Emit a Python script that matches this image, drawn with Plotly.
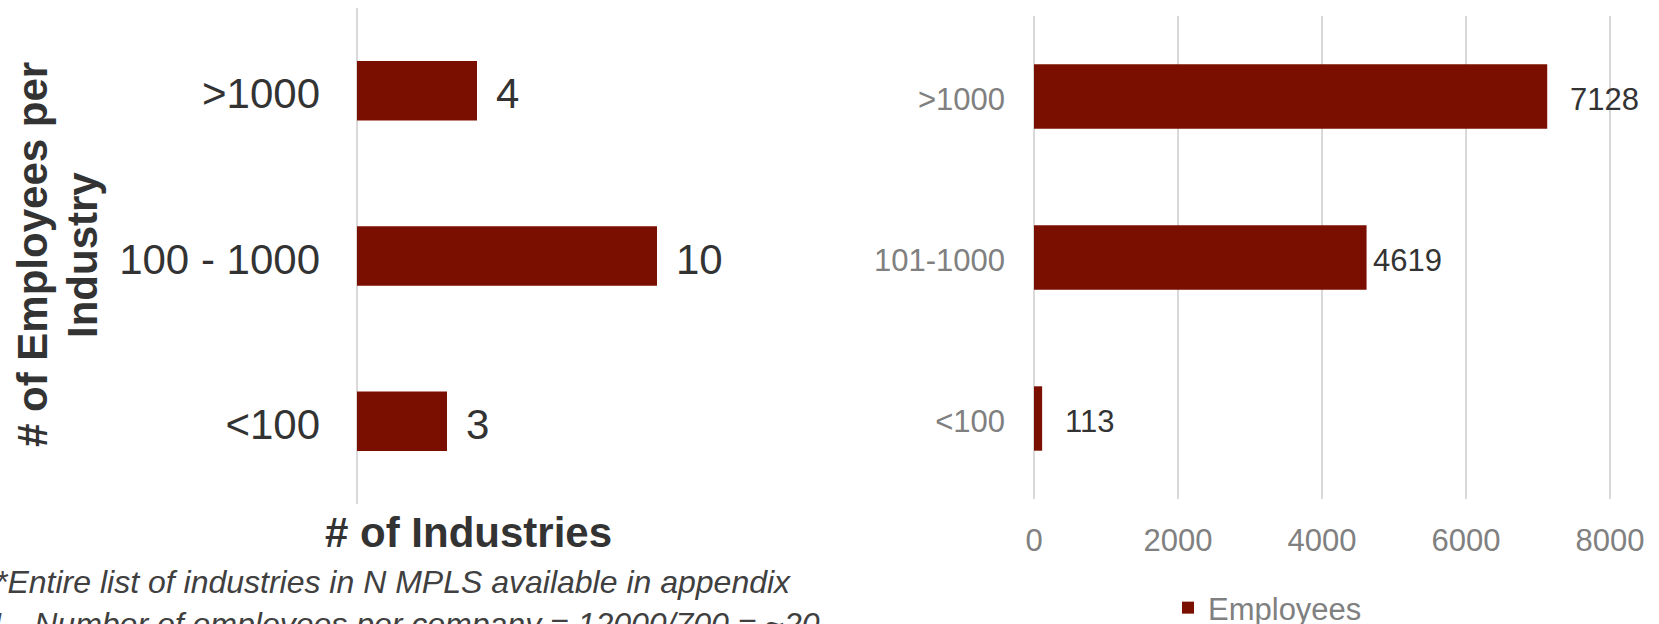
import plotly.graph_objects as go

W, H = 1659, 624

# ---- data ----
left_categories = ["<100", "100 - 1000", ">1000"]
left_values = [3, 10, 4]
right_categories = ["<100", "101-1000", ">1000"]
right_values = [113, 4619, 7128]
right_tickvals = [0, 2000, 4000, 6000, 8000]
left_xtitle = "# of Industries"
left_ytitle_lines = ["# of Employees per", "Industry"]
footnote_1 = "*Entire list of industries in N MPLS available in appendix"
footnote_2 = "1 - Number of employees per company = 12000/700 = ~20"
legend_name = "Employees"

# ---- style ----
BAR = "#7a0f00"
GRID = "#d9d9d9"
DARK = "#333333"
GRAY = "#808080"
FONT = "Liberation Sans, Arial, sans-serif"
right_label_shift = [21, 4, 21]


def px_x(p):
    """window pixel -> paper x"""
    return p / W


def px_y(p):
    """window pixel -> paper y"""
    return 1 - p / H


fig = go.Figure()
fig.add_trace(go.Bar(
    x=left_values, y=left_categories, orientation="h",
    xaxis="x", yaxis="y", marker_color=BAR, width=0.36,
    showlegend=False, hoverinfo="skip"))
fig.add_trace(go.Bar(
    x=right_values, y=right_categories, orientation="h",
    xaxis="x2", yaxis="y2", marker_color=BAR, width=0.40,
    name=legend_name, showlegend=True, hoverinfo="skip"))

annotations = []
for c, v in zip(left_categories, left_values):
    annotations.append(dict(x=v, y=c, xref="x", yref="y", text=str(v),
                            showarrow=False, xanchor="left", xshift=17, yshift=-3,
                            font=dict(size=42, color=DARK, family=FONT)))
for c, v, s in zip(right_categories, right_values, right_label_shift):
    annotations.append(dict(x=v, y=c, xref="x2", yref="y2", text=str(v),
                            showarrow=False, xanchor="left", xshift=s, yshift=-3,
                            font=dict(size=31, color=DARK, family=FONT)))

# axis titles
annotations.append(dict(x=px_x(468), y=px_y(532), xref="paper", yref="paper",
                        text="<b>%s</b>" % left_xtitle, showarrow=False,
                        xanchor="center", yanchor="middle",
                        font=dict(size=42, color=DARK, family=FONT)))
for xp, line in zip([32, 82], left_ytitle_lines):
    annotations.append(dict(x=px_x(xp), y=px_y(255), xref="paper", yref="paper",
                            text="<b>%s</b>" % line, showarrow=False, textangle=-90,
                            xanchor="center", yanchor="middle",
                            font=dict(size=42, color=DARK, family=FONT)))

# footnotes
annotations.append(dict(x=px_x(-7), y=px_y(582), xref="paper", yref="paper",
                        text="<i>%s</i>" % footnote_1, showarrow=False,
                        xanchor="left", yanchor="middle",
                        font=dict(size=32, color="#404040", family=FONT)))
annotations.append(dict(x=px_x(-14), y=px_y(624), xref="paper", yref="paper",
                        text="<i>%s</i>" % footnote_2, showarrow=False,
                        xanchor="left", yanchor="middle",
                        font=dict(size=32, color="#404040", family=FONT)))

scale = (1610 - 1034) / 8000.0
x2_max = 8030

fig.update_layout(
    template="none",
    width=W, height=H,
    margin=dict(l=0, r=0, t=0, b=0, pad=0, autoexpand=False),
    paper_bgcolor="white", plot_bgcolor="white",
    font=dict(family=FONT),
    xaxis=dict(domain=[px_x(357), px_x(357 + 12 * 30)], range=[0, 12],
               showgrid=False, zeroline=True, zerolinecolor=GRID, zerolinewidth=1.5,
               showticklabels=False, showline=False, ticks="", anchor="y"),
    yaxis=dict(domain=[px_y(504), px_y(8)], type="category",
               categoryorder="array", categoryarray=left_categories,
               showgrid=False, zeroline=False, showline=False, ticks="",
               tickfont=dict(size=42, color=DARK, family=FONT),
               ticklabelstandoff=36, ticklabelshift=3, anchor="x"),
    xaxis2=dict(domain=[px_x(1034), px_x(1034 + x2_max * scale)], range=[0, x2_max],
                tickmode="array", tickvals=right_tickvals,
                showgrid=True, gridcolor=GRID, gridwidth=1.5,
                zeroline=True, zerolinecolor=GRID, zerolinewidth=1.5,
                showline=False, ticks="",
                tickfont=dict(size=31, color=GRAY, family=FONT),
                ticklabelstandoff=20, anchor="y2"),
    yaxis2=dict(domain=[px_y(499), px_y(16)], type="category",
                categoryorder="array", categoryarray=right_categories,
                showgrid=False, zeroline=False, showline=False, ticks="",
                tickfont=dict(size=31, color=GRAY, family=FONT),
                ticklabelstandoff=28, ticklabelshift=3, anchor="x2"),
    legend=dict(orientation="h", x=px_x(1168), xanchor="left",
                y=px_y(608), yanchor="middle",
                font=dict(size=31, color=GRAY, family=FONT),
                bgcolor="rgba(0,0,0,0)"),
    annotations=annotations,
)

# remove the default page margin so the figure fills the 1659x624 window exactly
fig.write_html("out.html",
               config={"displayModeBar": False},
               post_script="document.body.style.margin='0';document.body.style.overflow='hidden';")
